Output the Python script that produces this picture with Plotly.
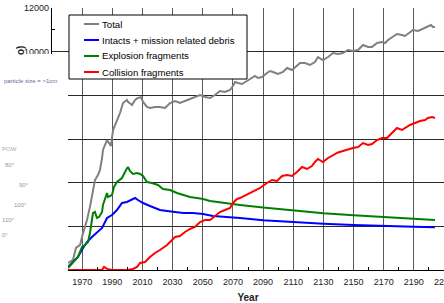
import plotly.graph_objects as go

# ---------------- data ----------------
total_years = [1960.6, 1963.9, 1965.9, 1968.6, 1970.6, 1973.2, 1975.2, 1977.2, 1978.5, 1980.5,
               1981.8, 1983.2, 1983.8, 1986.5, 1989.1, 1990.5, 1993.1, 1995.1, 1997.1, 1999.7,
               2000.4, 2003.1, 2005.1, 2007.0, 2009.0, 2010.4, 2013.0, 2015.0, 2018.3, 2021.6,
               2025.0, 2028.3, 2031.6, 2034.9, 2041.5, 2048.2, 2051.5, 2054.8, 2058.1, 2061.4,
               2064.7, 2068.1, 2070.0, 2071.4, 2073.4, 2076.0, 2079.3, 2082.7, 2084.6, 2086.6,
               2089.3, 2092.6, 2094.6, 2096.6, 2099.9, 2103.2, 2105.9, 2109.2, 2111.2, 2114.5,
               2117.8, 2121.1, 2124.4, 2126.4, 2129.7, 2133.1, 2136.4, 2139.7, 2143.0, 2146.3,
               2149.6, 2153.0, 2156.3, 2159.6, 2162.2, 2165.6, 2168.9, 2170.9, 2172.9, 2175.5,
               2178.8, 2182.1, 2184.1, 2186.8, 2189.4, 2192.8, 2196.1, 2198.7, 2201.4, 2202.7,
               2204.0]
total_values = [320, 460, 1010, 1150, 1690, 2290, 2890, 3660, 4120, 4350,
                4580, 5130, 5500, 5950, 5680, 6410, 6870, 7190, 7650, 7790,
                7700, 7560, 7790, 7880, 7920, 7700, 7470, 7420, 7470, 7470,
                7420, 7650, 7740, 7650, 7830, 8015, 7923, 7877, 8015, 8198,
                8152, 8244, 8427, 8610, 8565, 8519, 8656, 8793, 8885, 8793,
                8839, 9022, 9114, 9068, 8977, 9068, 9251, 9160, 9297, 9480,
                9480, 9389, 9526, 9755, 9617, 9755, 9938, 9892, 9938, 10076,
                10030, 10076, 10305, 10213, 10213, 10396, 10442, 10396, 10534, 10671,
                10808, 10763, 10717, 10854, 10992, 10946, 11038, 11129, 11221, 11129,
                11129]

intact_years = [1960.6, 1963.9, 1967.2, 1970.6, 1973.2, 1976.5, 1979.8, 1983.2, 1986.5, 1989.8,
                1993.1, 1996.4, 1999.7, 2003.1, 2005.1, 2007.0, 2010.4, 2015.0, 2018.3, 2021.6,
                2026.3, 2030.3, 2036.9, 2043.5, 2050.2, 2056.8, 2063.4, 2070.1, 2074.7, 2090,
                2110, 2130, 2150, 2170, 2190, 2204]
intact_values = [137, 366, 595, 1008, 1282, 1511, 1695, 1924, 2382, 2519,
                 2748, 3069, 3114, 3206, 3297, 3206, 3069, 2931, 2840, 2748,
                 2702, 2656, 2611, 2611, 2565, 2473, 2427, 2382, 2382, 2280,
                 2190, 2120, 2060, 2010, 1980, 1960]

explosion_years = [1960.6, 1963.9, 1967.2, 1969.9, 1971.9, 1973.9, 1975.2, 1977.2, 1978.5, 1979.8,
                   1981.2, 1983.2, 1983.8, 1986.5, 1987.1, 1989.8, 1991.1, 1993.1, 1996.4, 1999.1,
                   2000.4, 2001.7, 2003.7, 2006.4, 2008.4, 2010.4, 2013.0, 2016.3, 2020.3, 2023.6,
                   2028.3, 2032.9, 2036.9, 2041.5, 2046.2, 2050.2, 2054.8, 2059.4, 2064.7, 2070.1,
                   2074.7, 2090, 2110, 2130, 2150, 2170, 2190, 2204]
explosion_values = [92, 320, 595, 1053, 1145, 1282, 1695, 2611, 2656, 2382,
                    2427, 2656, 2977, 3526, 3343, 3435, 3801, 4030, 4214, 4580,
                    4717, 4534, 4397, 4443, 4397, 4305, 4030, 3984, 3893, 3710,
                    3664, 3526, 3435, 3343, 3297, 3252, 3160, 3114, 3069, 3023,
                    2977, 2860, 2720, 2600, 2510, 2420, 2350, 2290]

collision_years = [1960.6, 1970, 1980, 1983.2, 1984.5, 1986.5, 1990, 2000, 2003.7, 2006.4,
                   2008.4, 2011.7, 2015.0, 2018.3, 2021.6, 2026.3, 2029.6, 2031.6, 2034.9, 2038.2,
                   2041.5, 2044.8, 2048.2, 2051.5, 2054.8, 2058.1, 2061.4, 2064.7, 2068.1, 2070.0,
                   2072.7, 2074.7, 2081.0, 2088.0, 2092.6, 2095.9, 2099.2, 2102.6, 2105.9, 2109.2,
                   2112.5, 2115.8, 2119.1, 2122.4, 2124.4, 2126.4, 2129.7, 2133.1, 2139.7, 2146.3,
                   2149.6, 2153.0, 2156.3, 2159.6, 2162.2, 2165.6, 2168.9, 2172.2, 2175.5, 2178.8,
                   2182.1, 2184.1, 2187.4, 2190.8, 2194.1, 2197.4, 2199.4, 2202.0, 2204.0]
collision_values = [0, 0, 0, 0, 140, 50, 0, 0, 46, 137,
                    320, 366, 595, 779, 916, 1145, 1374, 1511, 1557, 1740,
                    1878, 1969, 2198, 2290, 2290, 2473, 2656, 2748, 2840, 3069,
                    3252, 3297, 3530, 3756, 3984, 4122, 4076, 4305, 4351, 4305,
                    4488, 4717, 4626, 4763, 4946, 5084, 4946, 5130, 5382, 5541,
                    5587, 5633, 5816, 5725, 5770, 5954, 6046, 6046, 6274, 6503,
                    6412, 6503, 6641, 6732, 6824, 6870, 6961, 7007, 6961]

series_names = ["Total", "Intacts + mission related debris",
                "Explosion fragments", "Collision fragments"]
series_colors = ["#808080", "#0000ff", "#008000", "#ff0000"]
x_title = "Year"

# ---------------- figure ----------------
W, H = 444, 303
L, R, T, B = 52, 0, 8, 33
PW, PH = W - L - R, H - T - B


def pxx(x):  # pixel -> paper x
    return (x - L) / PW


def pxy(y):  # pixel -> paper y
    return (H - B - y) / PH


fig = go.Figure()
data = [(total_years, total_values), (intact_years, intact_values),
        (explosion_years, explosion_values), (collision_years, collision_values)]
for (xs, ys), name, col in zip(data, series_names, series_colors):
    fig.add_trace(go.Scatter(x=xs, y=ys, mode="lines", name=name,
                             line=dict(color=col, width=2), showlegend=False))

font = "Liberation Sans, Arial, sans-serif"
fig.update_layout(
    width=W, height=H,
    margin=dict(l=L, r=R, t=T, b=B, pad=0),
    paper_bgcolor="white", plot_bgcolor="white",
    font=dict(family=font, size=9, color="#222"),
    showlegend=False,
)
fig.update_xaxes(
    range=[1950, 2210], tick0=1950, dtick=20,
    showgrid=True, gridcolor="#5a5a5a", gridwidth=1.4,
    showline=True, linecolor="black", linewidth=1.2,
    ticks="", ticklabelstandoff=3, ticklabeloverflow="allow",
    tickfont=dict(size=9, family=font, color="#222"),
    minor=dict(dtick=10, ticks="inside", ticklen=3, tickcolor="black", showgrid=False),
    title=dict(text="<b>" + x_title + "</b>", font=dict(size=10, family=font, color="#222"), standoff=10),
    zeroline=False, automargin=False,
)
fig.update_yaxes(
    range=[0, 12000], dtick=2000, tickformat="d",
    showgrid=True, gridcolor="#2a2a2a", gridwidth=1.2,
    showline=True, linecolor="black", linewidth=1.2,
    ticks="", tickfont=dict(size=9, family=font, color="#222"),
    minor=dict(dtick=1000, ticks="inside", ticklen=3, tickcolor="black", showgrid=False),
    zeroline=False, automargin=False,
)

# overlapping white panel on the left (covers part of the chart, as in the source)
fig.add_shape(type="rect", xref="paper", yref="paper", layer="above",
              x0=pxx(-2), x1=pxx(68), y0=pxy(H + 2), y1=pxy(54),
              fillcolor="white", line=dict(width=0))

# legend drawn by hand
lx0, lx1, ly0, ly1 = 69, 247, 15, 79
fig.add_shape(type="rect", xref="paper", yref="paper", layer="above",
              x0=pxx(lx0), x1=pxx(lx1), y0=pxy(ly1), y1=pxy(ly0),
              fillcolor="white", line=dict(color="black", width=1))
for i, (name, col) in enumerate(zip(series_names, series_colors)):
    yy = 24 + 16 * i
    fig.add_shape(type="line", xref="paper", yref="paper", layer="above",
                  x0=pxx(84), x1=pxx(99), y0=pxy(yy), y1=pxy(yy),
                  line=dict(color=col, width=2))
    fig.add_annotation(xref="paper", yref="paper", x=pxx(100), y=pxy(yy),
                       text=name, showarrow=False, xanchor="left", yanchor="middle",
                       font=dict(size=9.6, family=font, color="black"))

# fragments of other texts visible in the source image
fig.add_annotation(xref="paper", yref="paper", x=pxx(13), y=pxy(44), text="<b>o)</b>",
                   textangle=-90, showarrow=False, font=dict(size=10, family=font, color="#222"))
stray = [("particle size = >1cm", 2, 81, "#6a6aa0"), ("POW", 0, 149, "#aaa"),
         ("80°", 3, 165, "#999"), ("90°", 17, 185, "#999"), ("100°", 12, 205, "#999"),
         ("110°", 0, 220, "#999"), ("0°", 0, 235, "#999")]
for txt, x, y, c in stray:
    fig.add_annotation(xref="paper", yref="paper", x=pxx(x), y=pxy(y), text=txt,
                       showarrow=False, xanchor="left", yanchor="middle",
                       font=dict(size=6, family=font, color=c))

fig.write_html("out.html", config={"displayModeBar": False},
               post_script="document.body.style.margin='0';")
